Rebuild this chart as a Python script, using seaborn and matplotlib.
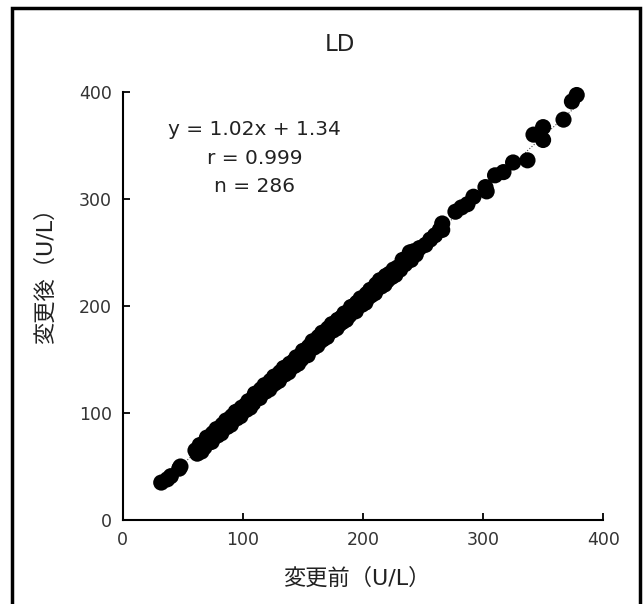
import numpy as np
import pandas as pd
import matplotlib
matplotlib.use("Agg")
import matplotlib.pyplot as plt
import seaborn as sns
from matplotlib.patches import Rectangle

# values (U/L)
before = [
    32, 37, 40, 47, 48,
    60.5, 62, 64, 65.5, 67, 68, 70, 71, 72.5, 74, 75, 76.5, 78, 79, 80.5,
    82, 83, 84.5, 86, 87, 88.5, 90, 91, 92.5, 94, 95, 96.5, 98, 99, 100.5,
    102, 103, 104.5, 106, 107, 108.5, 110, 111, 112.5, 114, 115, 116.5, 118,
    119, 120.5, 122, 123, 124.5, 126, 127, 128.5, 130, 131, 132.5, 134, 135,
    136.5, 138, 139, 140.5, 142, 143, 144.5, 146, 147, 148.5, 150, 151, 152.5,
    154, 155, 156.5, 158, 159, 160.5, 162, 163, 164.5, 166, 167, 168.5, 170,
    171, 172.5, 174, 175, 176.5, 178, 179, 180.5, 182, 183, 184.5, 186, 187,
    188.5, 190, 191, 192.5, 194, 195, 196.5, 198, 199, 200.5, 202, 203, 204.5,
    206, 207, 208.5, 210, 211, 212.5, 214, 215, 216.5, 218, 219, 220.5, 222,
    224, 225.5, 227, 229, 231, 233, 235, 237, 239, 240, 242, 244,
    247, 252, 256, 260, 264, 266, 266, 277, 282, 287, 292, 303,
    302, 310, 317, 325, 337, 342, 350, 350, 367, 374, 378,
]
after = [
    35, 38, 41, 48, 50,
    65, 62, 70, 64, 71, 68, 77, 72, 77, 73, 81, 78, 85, 79, 84,
    81, 89, 86, 93, 87, 94, 89, 97, 95, 101, 95, 102, 97, 105, 102,
    107, 103, 111, 105, 112, 109, 118, 113, 118, 114, 122, 119, 126,
    120, 125, 122, 130, 126, 134, 128, 134, 130, 138, 135, 142, 136,
    143, 138, 146, 143, 148, 144, 152, 146, 152, 150, 158, 153, 159,
    154, 162, 160, 167, 161, 166, 163, 171, 167, 175, 169, 175, 171,
    179, 176, 183, 177, 183, 179, 187, 183, 189, 185, 193, 187, 193,
    191, 199, 194, 200, 195, 203, 201, 207, 201, 207, 203, 211, 208,
    215, 210, 216, 212, 220, 217, 224, 218, 224, 220, 228, 224, 230,
    227, 234, 229, 236, 234, 243, 239, 245, 250, 243, 251, 248,
    254, 257, 262, 266, 271, 277, 271, 288, 292, 295, 302, 307,
    311, 322, 325, 334, 336, 360, 355, 367, 374, 391, 397,
]
slope, intercept = 1.02, 1.34
stats_lines = ["y = 1.02x + 1.34", "r = 0.999", "n = 286"]

df = pd.DataFrame({"before": before, "after": after})

sns.set_style("ticks")
plt.rcParams["font.family"] = ["DejaVu Sans", "Noto Sans CJK JP"]

fig = plt.figure(figsize=(6.43, 6.04), dpi=100)
ax = fig.add_axes([0.191, 0.139, 0.747, 0.709])

# regression line (thin dotted, mostly hidden under the points)
xl = np.array([min(before), max(before)])
ax.plot(xl, slope * xl + intercept, ls=":", lw=0.8, color="0.3", zorder=1)

sns.scatterplot(data=df, x="before", y="after", ax=ax, color="black",
                s=135, linewidth=0, edgecolor="none", zorder=2, clip_on=False)

ax.set_xlim(0, 400)
ax.set_ylim(0, 400)
ax.set_xticks([0, 100, 200, 300, 400])
ax.set_yticks([0, 100, 200, 300, 400])
ax.tick_params(direction="in", length=5, width=1.3, labelsize=12.5, colors="black",
               labelcolor="#333333", pad=8)
sns.despine(ax=ax)
for sp in ["left", "bottom"]:
    ax.spines[sp].set_linewidth(1.5)
    ax.spines[sp].set_color("black")
ax.set_xlabel("")
ax.set_ylabel("")

for i, line in enumerate(stats_lines):
    ax.text(0.275, 0.911 - i * 0.066, line, transform=ax.transAxes,
            ha="center", va="center", fontsize=14.5, color="#222222")

fig.text(0.529, 0.926, "LD", ha="center", va="center", fontsize=16.5, color="#222222")
fig.text(0.555, 0.043, "変更前（U/L）", ha="center", va="center", fontsize=16, color="#222222")
fig.text(0.07, 0.553, "変更後（U/L）", ha="center", va="center", fontsize=16,
         rotation=90, color="#222222")

# outer frame of the figure
fig.patches.append(Rectangle((12 / 643, -0.05), (640 - 12) / 643, 0.987 + 0.05,
                             transform=fig.transFigure, fill=False,
                             edgecolor="black", linewidth=2.5))

fig.savefig("out.png", dpi=100)
